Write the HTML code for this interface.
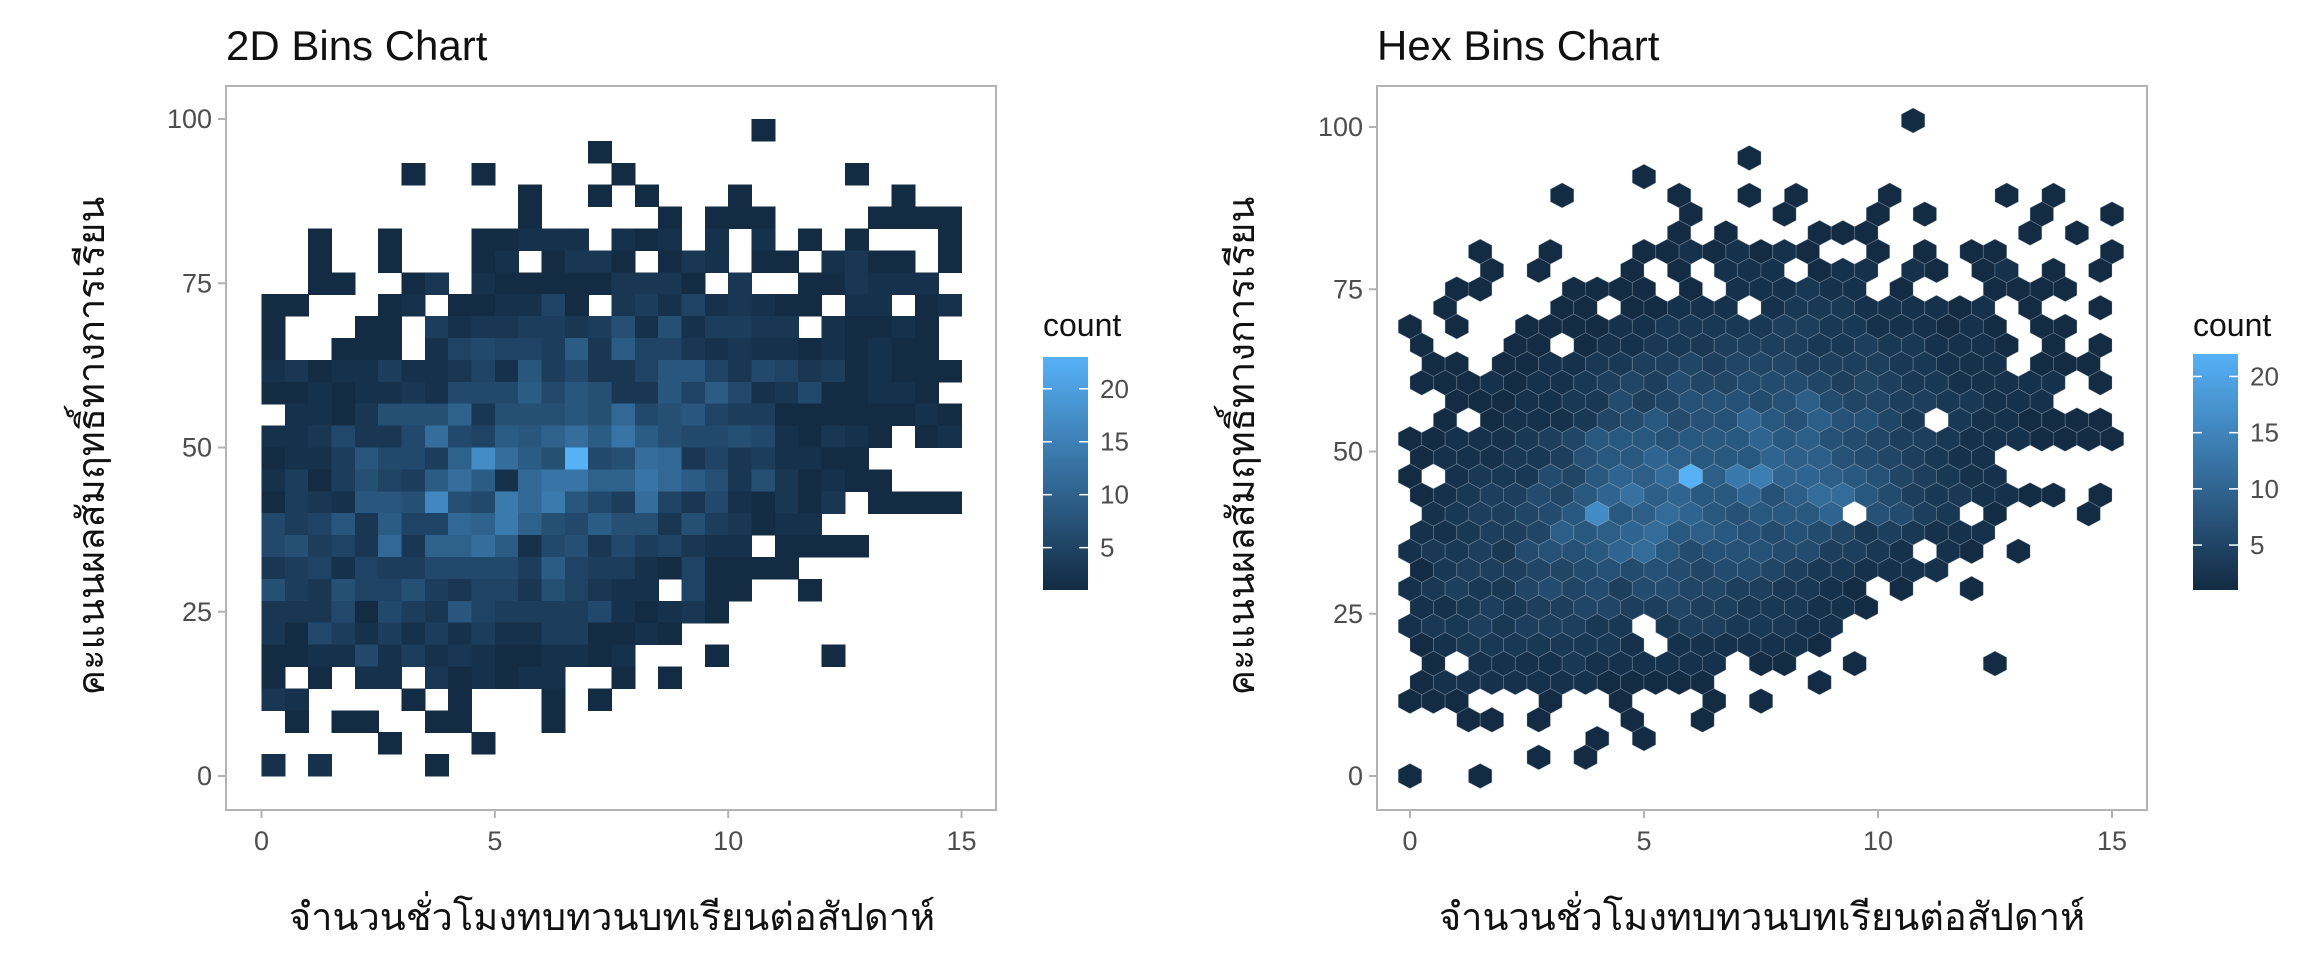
<!DOCTYPE html>
<html><head><meta charset="utf-8">
<style>
html,body{margin:0;padding:0;background:#fff;}
svg text{font-family:"Liberation Sans","DejaVu Sans",sans-serif;}
</style></head>
<body>
<svg id="chart" width="2304" height="960" viewBox="0 0 2304 960" xmlns="http://www.w3.org/2000/svg">
<rect x="0" y="0" width="2304" height="960" fill="#fff"/>
<text x="226" y="60" font-size="42" fill="#111">2D Bins Chart</text>
<text x="1377" y="60" font-size="42" fill="#111">Hex Bins Chart</text>
<g id="left"></g>
<g id="right"></g>
<text x="612" y="930" font-size="38" text-anchor="middle" fill="#111">จำนวนชั่วโมงทบทวนบทเรียนต่อสัปดาห์</text>
<text x="1762" y="930" font-size="38" text-anchor="middle" fill="#111">จำนวนชั่วโมงทบทวนบทเรียนต่อสัปดาห์</text>
<text transform="translate(104,446) rotate(-90)" font-size="38" text-anchor="middle" fill="#111">คะแนนผลสัมฤทธิ์ทางการเรียน</text>
<text transform="translate(1254,446) rotate(-90)" font-size="38" text-anchor="middle" fill="#111">คะแนนผลสัมฤทธิ์ทางการเรียน</text>
</svg>
<script>
// ---- data ----
const xTicks = [0, 5, 10, 15];
const yTicks = [0, 25, 50, 75, 100];
const leftLegendTicks = [5, 10, 15, 20];
const rightLegendTicks = [5, 10, 15, 20];
const leftCountRange = [1, 23];
const rightCountRange = [1, 22];
// 2D bins: 30 columns (x 0..15, step 0.5), 30 rows (y 100..0, top first); '.'=empty, 1-9, a=10 ... n=23
const bin2dRows = [
"..... ..... ..... ..... .1... .....",
"..... ..... ....1 ..... ..... .....",
"..... .1..1 ..... 1.... ..... 1....",
"..... ..... .1..1 .1... 1.... ..1..",
"..... ..... .1... ..1.1 11... .1111",
"..1.. 1...1 1222. 212.2 .2.1. 1...1",
"..1.. 1...1 2.133 1.132 .11.2 311.1",
"..11. .13.2 11111 3331. 3..11 3222.",
"11... 12.11 2251. 34252 3211. 22.12",
"1...1 1.423 34434 72724 433.2 1121.",
"1..11 1.256 55493 95532 32212 1211.",
"23122 42235 28463 35885 36534 12111",
"11212 23266 69687 33859 62361 1221.",
".2213 777a3 77787 b6785 44111 11121",
"22363 36c65 98ac9 d9766 76213 21.12",
"12248 664ah c97n6 7cb35 34221 1....",
"24147 549c9 2bdda adb97 37312 11...",
"14328 87g76 ebe86 4c536 21313 .1111",
"64583 955ba ea769 77374 3122. .....",
"67453 b3aac 92673 64532 2.111 1....",
"34525 44666 64954 42151 111.. .....",
"74375 57435 53753 22.51 1..1. .....",
"33361 64385 44446 21231 ..... .....",
"31642 42424 22441 121.. ..... .....",
"11226 24232 11221 2...1 ....1 .....",
"1.1.2 2.312 122.. 1.1.. ..... .....",
"32... .1.1. ..1.1 ..... ..... .....",
".1.11 ..11. ..1.. ..... ..... .....",
"..... 1...1 ..... ..... ..... .....",
"2.2.. ..1.. ..... ..... ..... ....."
];
// Hex bins: rows from top (row 35) to bottom (row 0); even rows x=0.5*i, odd rows x=0.25+0.5*i
const hexRows = [
"..... ..... ..... ..... .1... .....",
"",
"..... ..... ....1",
"..... ..... 1",
"..... .1... .1..1 .1... 1.... 1.1..",
"..... ..... ..1.. .1... 1.1.. ..1.. 1",
"..... ..... .1.1. ..111 ..... .1.1.",
"...1. .1... 11212 121.. 1.1.1 1.... 1",
"...1. 1...1 .1.22 2.122 .21.1 2.1.1",
"..11. ..111 1.1.2 22322 .1... 1111.",
".1... .11.1 1222. 23332 22212 .1..1",
"1.1.. 11112 23333 34433 22212 1.11.",
"1...1 1.122 33344 44334 33222 1.1.1",
".11.1 12233 44545 55444 43322 2.111",
"11121 22345 46556 66545 43322 222.1",
"..111 22336 45777 67965 54433 222..",
".1.12 22356 8677a 87977 53.32 21111",
"11222 34588 87888 a8976 54432 22111 1",
"12223 34788 a9888 a9976 54322",
"1.233 3658a 9bm9d eaa98 75432 2",
"12344 658ac 9a88a 79bb8 64332 211.1",
".2344 568g8 9ba87 888a. 7643. 1...1",
"22344 5989a b8987 67653 43222",
"23343 6778a b8677 76644 32.21 .1...",
"13444 55676 76566 54332 222..",
"23433 56564 66554 43321 .1..1",
"22343 44554 45443 33221",
"23343 44433 .3443 3322.",
"12333 33332 .2222 221..",
".1.22 22322 2222. 11..1 ..... 1....",
"12222 22211 111.. ..1..",
"111.. .1..1 ...1. 1....",
"..11. 1...1 ..1..",
"..... ...1. 1....",
"..... 1.1..",
"1..1."
];
const xBinWidth = 0.5;
const yBinCount = 30;
const yMax2d = 100;
const hexYMax = 101;

// ---- helpers ----
const NS = "http://www.w3.org/2000/svg";
function mk(tag, attrs, parent){const e=document.createElementNS(NS,tag);for(const k in attrs)e.setAttribute(k,attrs[k]);parent.appendChild(e);return e;}
function decode(ch){if(ch==='.')return 0;const c=ch.charCodeAt(0);if(c>=48&&c<=57)return c-48;return c-87;}
function color(v,range){let t=(v-range[0])/(range[1]-range[0]);t=Math.max(0,Math.min(1,t));
  const a=[19,43,67],b=[86,177,247];
  const r=a.map((x,i)=>Math.round(x+(b[i]-x)*t));return `rgb(${r[0]},${r[1]},${r[2]})`;}

function drawFrame(g, P, xs, ys, prefix){
  const fr=mk('rect',{x:P.l,y:P.t,width:P.r-P.l,height:P.b-P.t,fill:'none',stroke:'#b3b3b3','stroke-width':2},g);
  
  
  xTicks.forEach(v=>{
    const x=xs(v);
    const t=mk('line',{x1:x,x2:x,y1:P.b,y2:P.b+8,stroke:'#b3b3b3','stroke-width':2},g);
    
    
    const l=mk('text',{x:x,y:P.b+40,'font-size':27,'text-anchor':'middle',fill:'#4d4d4d'},g);
    
    
    l.textContent=v;
  });
  yTicks.forEach(v=>{
    const y=ys(v);
    const t=mk('line',{x1:P.l-8,x2:P.l,y1:y,y2:y,stroke:'#b3b3b3','stroke-width':2},g);
    
    
    const l=mk('text',{x:P.l-14,y:y+9,'font-size':27,'text-anchor':'end',fill:'#4d4d4d'},g);
    
    
    l.textContent=v;
  });
}
function drawLegend(g, L, range, ticks, prefix){
  const id=prefix+'grad';
  const defs=mk('defs',{},g);
  const lg=mk('linearGradient',{id:id,x1:0,y1:1,x2:0,y2:0},defs);
  mk('stop',{offset:'0%','stop-color':color(range[0],range)},lg);
  mk('stop',{offset:'50%','stop-color':color((range[0]+range[1])/2,range)},lg);
  mk('stop',{offset:'100%','stop-color':color(range[1],range)},lg);
  const tt=mk('text',{x:L.x,y:L.titleY,'font-size':32,fill:'#111'},g);
  
  
  tt.textContent='count';
  const bar=mk('rect',{x:L.x,y:L.top,width:L.w,height:L.bot-L.top,fill:`url(#${id})`},g);
  
  
  const ly=v=>L.bot-(v-range[0])/(range[1]-range[0])*(L.bot-L.top);
  ticks.forEach(v=>{
    const y=ly(v);
    mk('line',{x1:L.x,x2:L.x+9,y1:y,y2:y,stroke:'#fff','stroke-width':1.5},g);
    mk('line',{x1:L.x+L.w-9,x2:L.x+L.w,y1:y,y2:y,stroke:'#fff','stroke-width':1.5},g);
    const l=mk('text',{x:L.x+L.w+12,y:y+9,'font-size':26,fill:'#4d4d4d'},g);
    
    
    l.textContent=v;
  });
}

// ---- left: 2D bins ----
(function(){
  const g=document.getElementById('left');
  const P={l:226,r:996,t:86,b:810};
  const xs=v=>261.5+v*46.67;
  const ys=v=>776-v*6.57;
  const cells=mk('g',{'shape-rendering':'crispEdges'},g);
  
  
  const yW=yMax2d/yBinCount;
  bin2dRows.forEach((row,k)=>{
    const s=row.replace(/ /g,'');
    for(let i=0;i<s.length;i++){
      const v=decode(s[i]); if(!v) continue;
      const x0=xs(i*xBinWidth), x1=xs((i+1)*xBinWidth);
      const yTop=ys(yMax2d-k*yW), yBot=ys(yMax2d-(k+1)*yW);
      const r=mk('rect',{x:x0,y:yTop,width:x1-x0+0.6,height:yBot-yTop+0.6,fill:color(v,leftCountRange)},cells);
      
      
    }
  });
  drawFrame(g,P,xs,ys,'left');
  drawLegend(g,{x:1043,w:45,top:357,bot:590,titleY:336},leftCountRange,leftLegendTicks,'left');
})();

// ---- right: hex bins ----
(function(){
  const g=document.getElementById('right');
  const P={l:1377,r:2147,t:86,b:810};
  const xs=v=>1410+v*46.8;
  const ys=v=>776-v*6.49;
  const cells=mk('g',{},g);
  
  
  const nRows=hexRows.length-1;
  const dy=hexYMax/nRows;
  const hw=(xs(0.25)-xs(0));
  const rowPx=ys(0)-ys(dy);
  const hh=rowPx*2/3, hq=rowPx/3;
  hexRows.forEach((row,idx)=>{
    const r=nRows-idx;
    const s=row.replace(/ /g,'');
    for(let i=0;i<s.length;i++){
      const v=decode(s[i]); if(!v) continue;
      const xv=(r%2===1?0.25:0)+i*0.5;
      const cx=xs(xv), cy=ys(r*dy);
      const pts=[[cx,cy-hh],[cx+hw,cy-hq],[cx+hw,cy+hq],[cx,cy+hh],[cx-hw,cy+hq],[cx-hw,cy-hq]].map(p=>p[0].toFixed(1)+','+p[1].toFixed(1)).join(' ');
      const h=mk('polygon',{points:pts,fill:color(v,rightCountRange),stroke:'rgba(160,175,190,0.35)','stroke-width':0.8},cells);
      
      
    }
  });
  drawFrame(g,P,xs,ys,'right');
  drawLegend(g,{x:2193,w:45,top:354,bot:590,titleY:336},rightCountRange,rightLegendTicks,'right');
})();
</script>
</body></html>
